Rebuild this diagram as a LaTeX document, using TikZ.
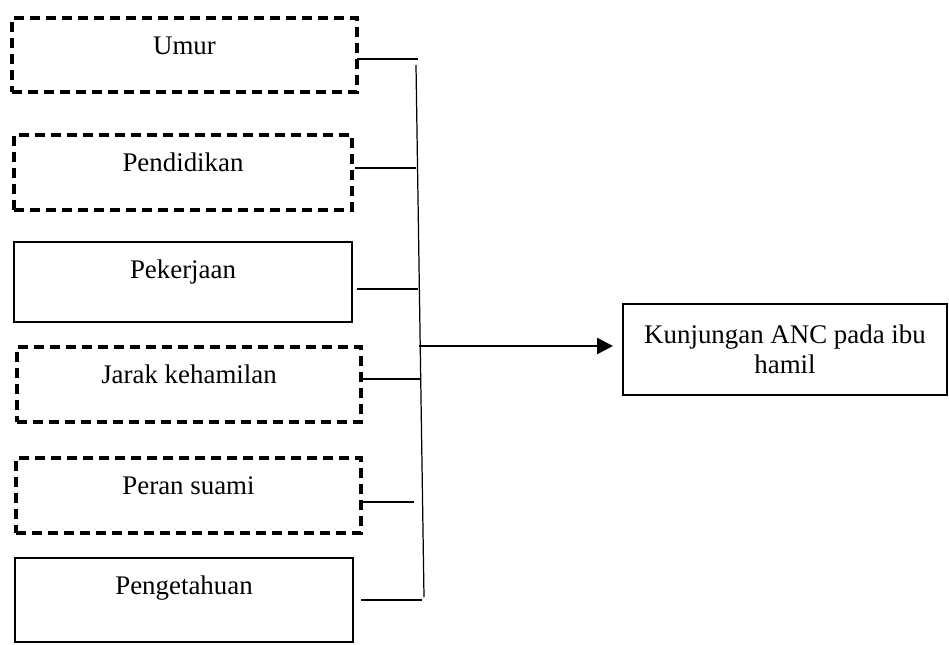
\documentclass[tikz,border=0pt]{standalone}
\usepackage{fontspec}
\setmainfont{Liberation Serif}
\usetikzlibrary{arrows.meta}

\begin{document}
\begin{tikzpicture}[x=0.2mm,y=-0.2mm,>={Triangle[length=3.2mm,width=3.2mm]},
kotak/.style={draw, line width=1.1pt, anchor=north west, inner sep=0pt, outer sep=0pt, font=\fontsize{15.3}{17}\selectfont},
faktor/.style={kotak, text height=7.2mm},
putus/.style={faktor, line width=1.8pt, dash pattern=on 5.7pt off 3.4pt},
garis/.style={line width=0.7pt},]
\useasboundingbox (0,0) rectangle (949,644);
% faktor-faktor
\node (umur) at (12,18)[putus,minimum width=69mm,text depth=7.6mm] {Umur};
\node (didik) at (14,135)[putus,minimum width=67.6mm,text depth=7.8mm] {Pendidikan};
\node (kerja) at (14,242)[faktor,minimum width=67.6mm,text depth=8.8mm] {Pekerjaan};
\node (jarak) at (17,347)[putus,minimum width=68.8mm,text depth=7.8mm] {Jarak kehamilan};
\node (suami) at (16,458)[putus,minimum width=69mm,text depth=7.8mm] {Peran suami};
\node (tahu) at (15,558)[faktor,minimum width=67.6mm,text depth=9.6mm] {Pengetahuan};
% variabel terikat
\node (anc) at (623,304)[kotak,minimum width=64.8mm,minimum height=18.2mm,align=center] {Kunjungan ANC pada ibu\\hamil};
% garis penghubung
\coordinate (atas) at (416,65);
\coordinate (bawah) at (424,597);
\coordinate (k1) at (418,59);
\coordinate (k2) at (416,168);
\coordinate (k3) at (418,289);
\coordinate (k4) at (420,379);
\coordinate (k5) at (414,502);
\coordinate (k6) at (422,600);
\coordinate (k0) at (419,346);
\draw[garis] (atas)--(bawah);
\draw[garis] (umur.east |- k1)--(k1);
\draw[garis] ([xshift=0.6mm]didik.east |- k2)--(k2);
\draw[garis] ([xshift=1mm]kerja.east |- k3)--(k3);
\draw[garis] (jarak.east |- k4)--(k4);
\draw[garis] (suami.east |- k5)--(k5);
\draw[garis] ([xshift=1.6mm]tahu.east |- k6)--(k6);
\draw[->,line width=1.4pt] (k0)--([xshift=-2mm]anc.west |- k0);
\end{tikzpicture}
\end{document}
